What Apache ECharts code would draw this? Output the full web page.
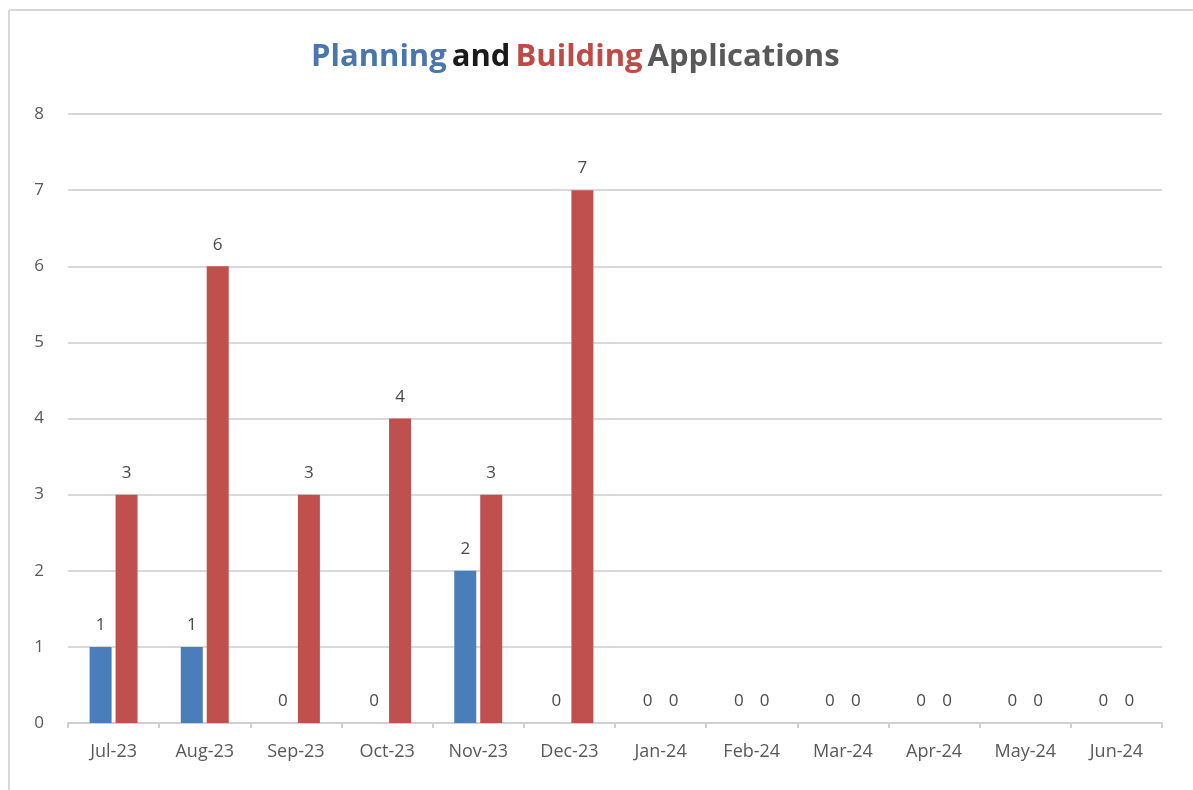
<!DOCTYPE html>
<html>
<head>
<meta charset="utf-8">
<script src="https://cdn.jsdelivr.net/npm/echarts@6/dist/echarts.min.js"></script>
<style>
html,body{margin:0;padding:0;background:#fff;}
#chart{width:1193px;height:790px;}
</style>
</head>
<body>
<div id="chart"></div>
<script>
const categories = ['Jul-23','Aug-23','Sep-23','Oct-23','Nov-23','Dec-23','Jan-24','Feb-24','Mar-24','Apr-24','May-24','Jun-24'];
const planning = [1,1,0,0,2,0,0,0,0,0,0,0];
const building = [3,6,3,4,3,7,0,0,0,0,0,0];
const yTicks = [0,1,2,3,4,5,6,7,8];

const FONT = '"Open Sans", "Liberation Sans", sans-serif';
const chart = echarts.init(document.getElementById('chart'));
const labelStyle = {
  show: true, position: 'top', distance: 13,
  color: '#4a4a4a', fontSize: 17, fontFamily: FONT
};
chart.setOption({
  animation: false,
  backgroundColor: '#ffffff',
  graphic: [
    {type: 'line', shape: {x1: 9, y1: 10, x2: 1193, y2: 10}, style: {stroke: '#d9d9d9', lineWidth: 2}},
    {type: 'line', shape: {x1: 9, y1: 10, x2: 9, y2: 790}, style: {stroke: '#d9d9d9', lineWidth: 2}}
  ],
  title: {
    text: '{a|Planning} {b|and} {c|Building} {d|Applications}',
    left: 306, top: 37,
    textStyle: {
      rich: {
        a: {color: '#4a75ad', fontSize: 31, fontWeight: 'bold', fontFamily: FONT},
        b: {color: '#1a1a1a', fontSize: 31, fontWeight: 'bold', fontFamily: FONT},
        c: {color: '#bf4a47', fontSize: 31, fontWeight: 'bold', fontFamily: FONT},
        d: {color: '#595959', fontSize: 31, fontWeight: 'bold', fontFamily: FONT}
      }
    }
  },
  grid: {left: 68, right: 31, top: 114, bottom: 67, containLabel: false},
  xAxis: {
    type: 'category',
    data: categories,
    axisLine: {lineStyle: {color: '#d0d0d0', width: 2}},
    axisTick: {show: true, length: 5, lineStyle: {color: '#d0d0d0', width: 2}},
    axisLabel: {color: '#595959', fontSize: 18, fontFamily: FONT, margin: 20}
  },
  yAxis: {
    type: 'value', min: yTicks[0], max: yTicks[yTicks.length - 1], interval: 1,
    axisLine: {show: false},
    axisTick: {show: false},
    axisLabel: {color: '#595959', fontSize: 17, fontFamily: FONT, margin: 24},
    splitLine: {lineStyle: {color: '#d9d9d9', width: 2}}
  },
  series: [
    {name: 'Planning', type: 'bar', data: planning, barWidth: 22, barGap: '18%',
     itemStyle: {color: '#4a7ebb'}, label: labelStyle},
    {name: 'Building', type: 'bar', data: building, barWidth: 22,
     itemStyle: {color: '#c0504d'}, label: labelStyle}
  ]
});
</script>
</body>
</html>
